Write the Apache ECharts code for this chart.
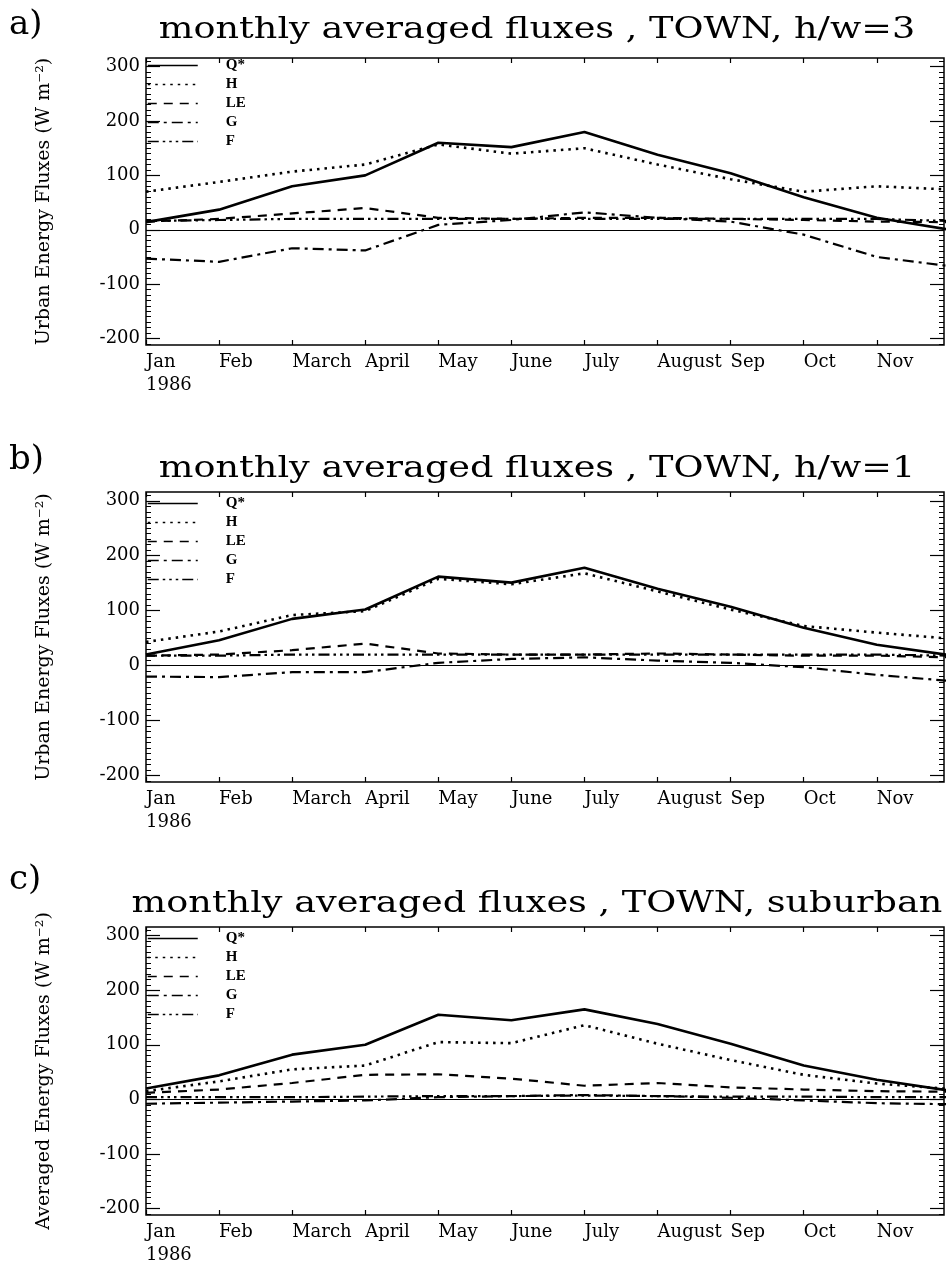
<!DOCTYPE html>
<html><head><meta charset="utf-8">
<script src="https://cdn.jsdelivr.net/npm/echarts@6/dist/echarts.min.js"></script>
<style>html,body{margin:0;padding:0;background:#fff}#c{width:948px;height:1266px}</style>
</head><body><div id="c"></div>
<script>
// ---- data ----
const monthLabels = ['Jan\n1986','Feb','March','April','May','June','July','August','Sep','Oct','Nov'];
const monthIndex = [0,1,2,3,4,5,6,7,8,9,10,11];
const yTickLabels = [-200,-100,0,100,200,300];
const seriesNames = ['Q*','H','LE','G','F'];
const panelTitles = ['monthly averaged fluxes , TOWN, h/w=3','monthly averaged fluxes , TOWN, h/w=1','monthly averaged fluxes , TOWN, suburban'];
const panelLabels = ['a)','b)','c)'];
const yAxisNames = ['Urban Energy Fluxes (W m\u207B\u00B2)','Urban Energy Fluxes (W m\u207B\u00B2)','Averaged Energy Fluxes (W m\u207B\u00B2)'];

// panel a : h/w=3
const qA  = [14, 37, 80, 100, 160, 152, 180, 138, 104, 60, 22, 0];
const hA  = [70, 88, 107, 120, 157, 140, 150, 120, 93, 70, 80, 74];
const leA = [15, 20, 30, 40, 22, 20, 22, 22, 20, 18, 15, 14];
const gA  = [-53, -59, -34, -38, 9, 18, 32, 22, 15, -9, -50, -67];
const fA  = [16, 18, 20, 20, 20, 20, 20, 20, 20, 20, 20, 16];
// panel b : h/w=1
const qB  = [20, 46, 85, 102, 162, 151, 178, 140, 107, 69, 38, 19];
const hB  = [43, 62, 92, 99, 158, 148, 168, 135, 102, 72, 60, 49];
const leB = [18, 20, 28, 40, 22, 20, 20, 22, 20, 18, 18, 15];
const gB  = [-20, -21, -12, -12, 5, 12, 15, 9, 5, -3, -17, -28];
const fB  = [18, 18, 20, 20, 20, 20, 20, 20, 20, 20, 20, 18];
// panel c : suburban
const qC  = [20, 44, 82, 100, 155, 145, 165, 138, 102, 62, 36, 16];
const hC  = [15, 33, 55, 62, 105, 103, 136, 102, 72, 45, 29, 19];
const leC = [12, 18, 30, 45, 46, 38, 25, 30, 22, 18, 15, 14];
const gC  = [-8, -6, -4, -2, 4, 6, 8, 6, 3, -2, -7, -9];
const fC  = [4, 4, 4, 5, 6, 6, 7, 6, 5, 5, 4, 4];

const panels = [[qA,hA,leA,gA,fA],[qB,hB,leB,gB,fB],[qC,hC,leC,gC,fC]];

// ---- layout / style ----
const FONT = 'DejaVu Serif';
const gridTops = [58, 492, 927];
const gridHeights = [287, 290, 288];
const titleMids = [30, 469, 904];
const labelTops = [8, 443, 863];
const legendTops = [58, 496, 931];
const Y_MIN = -212, Y_MAX = 316, X_MAX = 10.92;
const monthTicks = monthIndex.slice(0, 11);
const minorTicks = [];
for (let v = -210; v <= 310; v += 10) minorTicks.push(v);

const lineStyles = [
  {type:'solid', width:2.6},
  {type:[2.5,5], width:2.6},
  {type:[9,7], width:2.2},
  {type:[11,5,3,5], width:2.2},
  {type:[11,4,2.5,4,2.5,4,2.5,4], width:2.2}
];

const option = {
  animation:false,
  backgroundColor:'#fff',
  title:[], grid:[], xAxis:[], yAxis:[], legend:[], series:[], graphic:[]
};

panels.forEach((arrs, p) => {
  option.title.push({text:panelLabels[p], left:9, top:labelTops[p], padding:0,
    textStyle:{fontFamily:FONT, fontSize:34, fontWeight:'normal', color:'#000'}});
  option.graphic.push({type:'text', x:537, y:titleMids[p], scaleX:1.22, scaleY:1, silent:true,
    style:{text:panelTitles[p], font:'30px "DejaVu Serif"', fill:'#000', textAlign:'center', textVerticalAlign:'middle'}});
  option.grid.push({left:146, top:gridTops[p], width:798, height:gridHeights[p], show:true,
    borderColor:'#000', borderWidth:1.5, backgroundColor:'transparent', outerBoundsMode:'none', containLabel:false});
  const tickStyle = {color:'#000', width:1.2};
  ['bottom','top'].forEach(pos => {
    option.xAxis.push({gridIndex:p, type:'value', min:0, max:X_MAX, position:pos,
      axisLine:{show:false, onZero:false}, splitLine:{show:false},
      axisTick:{show:true, customValues:monthTicks, inside:true, length:5, lineStyle:tickStyle},
      axisLabel:{show:pos==='bottom', customValues:monthTicks, formatter:v=>monthLabels[v], align:'left',
        color:'#000', fontFamily:FONT, fontSize:18, margin:6, lineHeight:23}});
  });
  ['left','right'].forEach(pos => {
    option.yAxis.push({gridIndex:p, type:'value', min:Y_MIN, max:Y_MAX, position:pos,
      axisLine:{show:false, onZero:false}, splitLine:{show:false},
      axisTick:{show:true, customValues:yTickLabels, inside:true, length:14, lineStyle:tickStyle},
      axisLabel:{show:pos==='left', customValues:yTickLabels, color:'#000', fontFamily:FONT, fontSize:18, margin:6},
      name: pos==='left' ? yAxisNames[p] : '', nameLocation:'middle', nameGap:92, nameRotate:90,
      nameTextStyle:{fontFamily:FONT, fontSize:19, color:'#000'}});
    option.yAxis.push({gridIndex:p, type:'value', min:Y_MIN, max:Y_MAX, position:pos,
      axisLine:{show:false, onZero:false}, splitLine:{show:false},
      axisTick:{show:true, customValues:minorTicks, inside:true, length:5, lineStyle:{color:'#000', width:1}},
      axisLabel:{show:false}});
  });
  option.legend.push({data:seriesNames, orient:'vertical', left:147, top:legendTops[p], padding:0,
    itemWidth:50, itemHeight:14, itemGap:4, selectedMode:false,
    itemStyle:{color:'rgba(0,0,0,0)', borderWidth:0, opacity:0},
    textStyle:{fontFamily:'Liberation Serif', fontWeight:'bold', fontSize:15, color:'#000', padding:[0,0,0,23]},
    lineStyle:{width:1.5}});
  arrs.forEach((arr, s) => {
    const ser = {name:seriesNames[s], type:'line', xAxisIndex:2*p, yAxisIndex:4*p,
      data: monthIndex.map((m, i) => [m, arr[i]]), symbol:'none', clip:true,
      lineStyle:Object.assign({color:'#000'}, lineStyles[s]), itemStyle:{color:'#000'}, z:3};
    if (s === 0) {
      ser.markLine = {silent:true, symbol:'none', label:{show:false},
        lineStyle:{color:'#000', width:1.2, type:'solid'}, data:[{yAxis:0}]};
    }
    option.series.push(ser);
  });
});

const chart = echarts.init(document.getElementById('c'), null, {renderer:'canvas'});
chart.setOption(option);
</script>
</body></html>
